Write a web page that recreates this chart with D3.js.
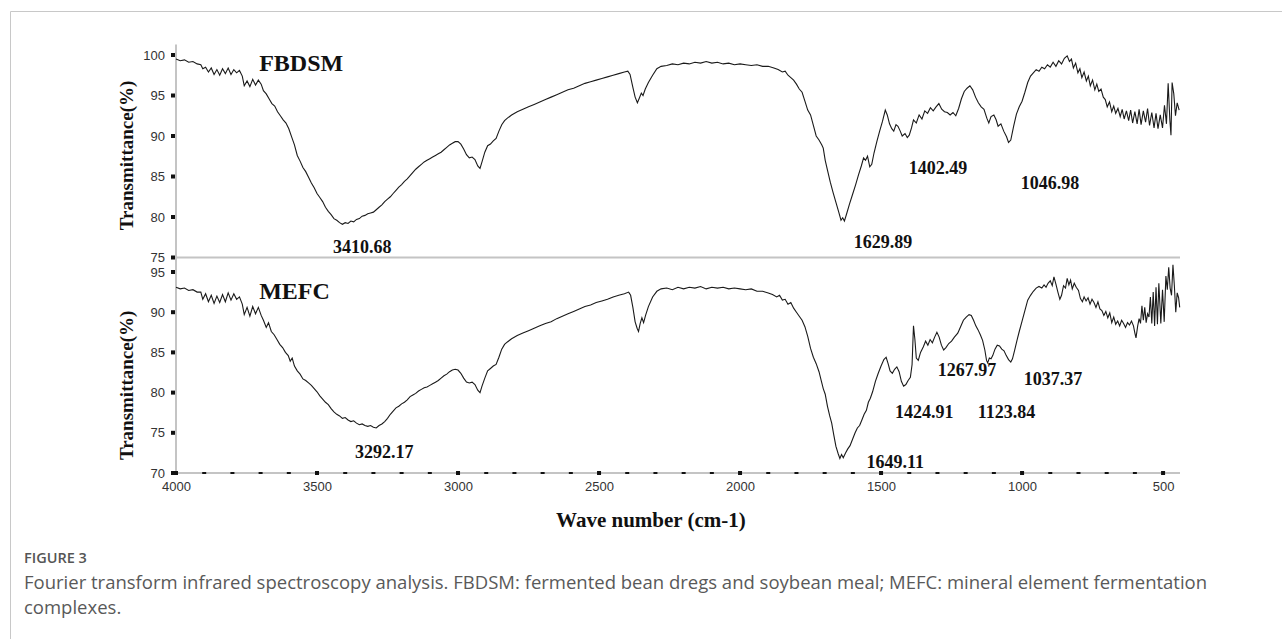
<!DOCTYPE html>
<html>
<head>
<meta charset="utf-8">
<script src="https://cdn.jsdelivr.net/npm/d3@7"></script>
<style>
  body { margin: 0; background: #fff; }
  svg { display: block; }
</style>
</head>
<body>
<div id="chart"></div>
<script>
// FTIR spectra: [wave number (cm-1), transmittance (%)]
var fbdsm = [
  [4000,99.5],[3985,99.3],[3970,99.4],[3955,99.1],[3940,99.2],[3925,98.9],[3912,98.8],[3905,98.3],
  [3895,98.5],[3885,97.9],[3875,98.4],[3865,97.6],[3855,98.2],[3845,97.5],[3835,98.3],[3825,97.7],
  [3815,98.4],[3805,97.6],[3795,98.2],[3785,97.8],[3775,98.1],[3765,97.4],[3758,96.2],[3748,96.8],
  [3738,96.1],[3728,97.0],[3718,96.3],[3708,96.9],[3698,96.4],[3690,95.6],[3680,95.2],[3670,94.6],
  [3660,94.0],[3650,93.7],[3640,93.0],[3630,92.5],[3620,92.0],[3610,91.6],[3600,90.9],[3590,89.9],
  [3580,88.9],[3570,87.6],[3560,86.9],[3550,86.1],[3540,85.6],[3530,84.9],[3520,84.2],[3510,83.6],
  [3500,82.9],[3490,82.4],[3480,81.9],[3470,81.2],[3460,80.7],[3450,80.3],[3440,79.8],[3430,79.6],
  [3420,79.3],[3410,79.1],[3400,79.3],[3390,79.2],[3380,79.5],[3370,79.4],[3360,79.7],[3350,79.8],
  [3340,80.1],[3330,80.2],[3320,80.4],[3310,80.5],[3300,80.6],[3290,80.9],[3280,81.2],[3270,81.5],
  [3260,81.9],[3250,82.2],[3240,82.5],[3230,82.9],[3220,83.3],[3210,83.7],[3200,84.0],[3190,84.4],
  [3180,84.7],[3170,85.1],[3160,85.5],[3150,85.9],[3140,86.2],[3130,86.5],[3120,86.8],[3110,87.0],
  [3100,87.2],[3090,87.4],[3080,87.6],[3070,87.8],[3060,88.0],[3050,88.3],[3040,88.6],[3030,88.9],
  [3020,89.1],[3010,89.3],[3000,89.3],[2990,89.0],[2980,88.4],[2970,87.7],[2960,87.3],[2950,87.4],
  [2940,87.1],[2930,86.3],[2922,86.0],[2915,86.8],[2905,88.0],[2895,88.8],[2885,89.0],[2875,89.4],
  [2865,89.7],[2855,90.6],[2845,91.4],[2835,91.9],[2825,92.2],[2810,92.6],[2790,93.0],[2770,93.3],
  [2750,93.6],[2730,93.9],[2710,94.2],[2690,94.5],[2670,94.8],[2650,95.1],[2630,95.4],[2610,95.7],
  [2590,95.9],[2570,96.2],[2550,96.5],[2530,96.7],[2510,96.9],[2490,97.1],[2470,97.3],[2450,97.5],
  [2430,97.7],[2410,97.9],[2398,98.0],[2390,97.6],[2380,96.0],[2372,94.8],[2364,94.1],[2358,94.6],
  [2350,95.3],[2344,95.0],[2336,95.8],[2325,96.6],[2310,97.5],[2295,98.3],[2280,98.6],[2260,98.7],
  [2240,98.9],[2220,98.8],[2200,99.0],[2180,98.9],[2160,99.1],[2140,99.0],[2120,99.2],[2100,99.0],
  [2080,99.1],[2060,98.9],[2040,99.0],[2020,98.8],[2000,98.9],[1980,98.8],[1960,98.7],[1940,98.8],
  [1920,98.6],[1900,98.6],[1880,98.4],[1865,98.2],[1850,97.9],[1840,98.0],[1830,97.5],[1820,97.2],
  [1810,96.9],[1800,96.4],[1790,95.8],[1780,95.4],[1770,94.3],[1760,93.2],[1750,92.6],[1740,91.3],
  [1730,90.0],[1720,89.5],[1710,88.9],[1705,88.5],[1698,87.0],[1690,85.8],[1680,84.3],[1670,83.0],
  [1660,81.8],[1650,80.6],[1642,79.6],[1636,79.9],[1630,79.5],[1622,80.4],[1612,81.6],[1600,82.9],
  [1590,84.0],[1580,85.2],[1570,86.3],[1562,87.3],[1555,87.0],[1548,87.5],[1540,86.2],[1533,86.5],
  [1525,87.9],[1515,89.3],[1505,90.6],[1495,91.8],[1485,93.2],[1478,92.6],[1470,91.5],[1462,90.9],
  [1455,90.6],[1447,91.4],[1440,91.2],[1432,90.6],[1425,90.0],[1415,90.3],[1407,89.8],[1400,90.1],
  [1392,91.0],[1385,92.0],[1375,91.6],[1365,92.6],[1355,92.1],[1345,93.1],[1335,92.8],[1325,93.5],
  [1315,93.1],[1305,93.6],[1295,94.0],[1285,93.3],[1275,93.0],[1265,92.9],[1255,92.6],[1245,92.9],
  [1235,92.5],[1225,93.4],[1215,94.6],[1205,95.5],[1195,95.9],[1185,96.2],[1175,95.7],[1165,94.8],
  [1155,94.1],[1145,93.6],[1135,93.3],[1125,92.2],[1118,91.6],[1110,92.4],[1100,92.6],[1092,92.0],
  [1085,91.2],[1075,91.5],[1065,90.6],[1055,89.9],[1048,89.2],[1040,89.5],[1030,91.2],[1020,92.7],
  [1010,93.6],[1000,94.3],[990,95.4],[980,96.6],[970,97.4],[960,97.8],[950,98.2],[940,98.0],
  [930,98.5],[920,98.3],[910,98.8],[900,98.5],[890,99.1],[880,98.6],[870,99.3],[860,98.9],
  [850,99.6],[840,99.9],[832,99.2],[825,99.5],[818,98.4],[810,99.0],[802,97.8],[795,98.3],
  [788,97.2],[780,97.9],[772,96.8],[765,97.4],[758,96.2],[750,96.9],[742,95.7],[735,96.4],
  [728,95.5],[720,95.8],[712,94.8],[705,94.5],[698,93.6],[690,94.2],[682,93.0],[675,93.7],
  [668,92.8],[660,93.4],[652,92.4],[645,93.3],[638,92.1],[630,93.1],[622,91.9],[615,93.2],
  [608,91.6],[600,93.0],[592,91.5],[585,93.3],[578,91.4],[570,93.1],[562,91.7],[555,93.4],
  [548,91.3],[540,92.9],[532,91.0],[525,92.8],[518,90.9],[510,92.6],[502,91.0],[495,93.8],
  [488,91.5],[482,96.5],[476,92.0],[472,90.1],[468,96.6],[462,95.2],[456,92.5],[450,94.1],[443,93.2]
];

var mefc = [
  [4000,93.1],[3985,92.9],[3970,93.0],[3955,92.7],[3940,92.8],[3925,92.5],[3912,92.5],[3905,91.6],
  [3895,92.3],[3885,91.3],[3875,92.1],[3865,91.1],[3855,92.0],[3845,91.2],[3835,92.2],[3825,91.3],
  [3815,92.4],[3805,91.5],[3795,92.3],[3785,91.6],[3775,91.9],[3765,91.0],[3758,89.7],[3748,90.6],
  [3738,89.5],[3728,90.7],[3718,89.8],[3708,90.6],[3698,89.6],[3690,89.0],[3680,88.1],[3672,88.7],
  [3662,87.6],[3652,87.2],[3642,86.6],[3632,86.0],[3622,85.6],[3612,85.0],[3602,84.6],[3595,83.9],
  [3588,84.3],[3580,83.3],[3570,82.7],[3560,82.3],[3550,81.7],[3540,81.5],[3530,81.2],[3520,80.9],
  [3510,80.5],[3500,80.1],[3490,79.6],[3480,79.2],[3470,78.8],[3460,78.5],[3450,78.0],[3440,77.6],
  [3430,77.3],[3420,77.1],[3410,76.8],[3400,76.9],[3390,76.6],[3380,76.4],[3370,76.5],[3360,76.2],
  [3350,76.0],[3340,76.1],[3330,75.9],[3320,75.8],[3310,75.9],[3300,75.7],[3290,75.6],[3280,75.9],
  [3270,76.1],[3260,76.4],[3250,76.8],[3240,77.3],[3230,77.7],[3220,78.1],[3210,78.3],[3200,78.6],
  [3190,78.8],[3180,79.1],[3170,79.5],[3160,79.7],[3150,79.9],[3140,80.2],[3130,80.4],[3120,80.6],
  [3110,80.7],[3100,80.9],[3090,81.1],[3080,81.3],[3070,81.5],[3060,81.8],[3050,82.1],[3040,82.3],
  [3030,82.6],[3020,82.8],[3010,82.9],[3000,82.8],[2990,82.4],[2980,81.8],[2970,81.3],[2960,81.2],
  [2950,81.3],[2940,81.0],[2930,80.3],[2922,80.0],[2915,80.8],[2905,81.8],[2895,82.7],[2885,83.0],
  [2875,83.3],[2865,83.5],[2855,84.4],[2845,85.4],[2835,86.0],[2825,86.3],[2810,86.7],[2790,87.1],
  [2770,87.4],[2750,87.7],[2730,88.0],[2710,88.3],[2690,88.6],[2670,88.8],[2650,89.2],[2630,89.5],
  [2610,89.8],[2590,90.1],[2570,90.4],[2550,90.7],[2530,90.9],[2510,91.2],[2490,91.4],[2470,91.6],
  [2450,91.9],[2430,92.1],[2410,92.3],[2395,92.5],[2388,92.1],[2380,90.6],[2372,88.8],[2365,88.0],
  [2360,87.6],[2354,88.6],[2348,89.3],[2342,88.7],[2335,89.6],[2325,90.7],[2310,91.9],[2295,92.6],
  [2280,92.9],[2260,93.0],[2240,92.8],[2220,93.1],[2200,92.9],[2180,93.1],[2160,93.0],[2140,93.2],
  [2120,92.9],[2100,93.1],[2080,93.0],[2060,93.1],[2040,92.9],[2020,93.0],[2000,92.9],[1980,92.8],
  [1960,92.9],[1940,92.6],[1920,92.6],[1900,92.4],[1885,92.2],[1870,91.9],[1860,92.1],[1850,91.5],
  [1840,91.6],[1830,91.0],[1820,91.2],[1810,90.5],[1800,90.0],[1790,89.5],[1780,89.0],[1770,88.2],
  [1760,87.0],[1750,85.5],[1740,84.4],[1730,83.6],[1720,82.6],[1713,81.6],[1705,80.5],[1698,79.8],
  [1690,78.3],[1682,77.1],[1675,76.2],[1668,74.8],[1660,73.3],[1652,72.4],[1646,71.8],[1640,72.3],
  [1634,71.9],[1626,72.5],[1618,73.0],[1610,73.4],[1600,74.3],[1592,75.0],[1584,75.6],[1576,75.9],
  [1568,76.6],[1560,77.3],[1552,77.8],[1545,78.8],[1538,79.3],[1530,80.1],[1520,81.4],[1510,82.4],
  [1500,83.3],[1490,84.1],[1482,84.4],[1475,83.6],[1468,82.7],[1460,82.4],[1452,82.9],[1444,83.2],
  [1436,82.6],[1428,81.4],[1420,80.8],[1412,81.0],[1404,81.5],[1396,81.9],[1390,83.5],[1385,88.3],
  [1380,86.6],[1375,84.3],[1368,84.0],[1360,85.0],[1350,85.7],[1342,86.4],[1334,85.9],[1326,86.6],
  [1318,86.2],[1310,86.9],[1302,87.5],[1294,86.9],[1286,85.9],[1278,85.3],[1270,85.6],[1260,86.1],
  [1250,86.4],[1240,86.9],[1228,87.4],[1218,88.2],[1208,89.0],[1198,89.4],[1188,89.7],[1180,89.6],
  [1172,89.0],[1164,88.3],[1156,87.8],[1148,87.2],[1140,86.5],[1132,85.3],[1126,84.0],[1122,83.7],
  [1116,84.3],[1110,84.2],[1104,84.6],[1096,85.4],[1088,85.9],[1080,85.8],[1072,85.4],[1064,85.2],
  [1056,84.6],[1048,84.1],[1040,83.8],[1034,84.2],[1026,85.3],[1018,86.5],[1010,87.6],[1000,88.9],
  [990,90.2],[980,91.5],[970,92.1],[960,92.6],[950,93.0],[940,93.2],[930,93.0],[922,93.4],
  [915,93.1],[908,93.6],[900,93.9],[893,93.3],[887,94.4],[880,93.5],[873,92.5],[866,91.6],
  [860,92.1],[853,93.3],[846,93.0],[840,94.2],[834,93.4],[828,94.0],[822,92.9],[815,93.6],
  [808,93.1],[800,92.7],[793,91.7],[786,91.3],[780,91.9],[773,91.4],[766,91.8],[759,91.0],
  [752,91.6],[745,91.2],[738,90.6],[731,91.3],[724,90.4],[717,90.2],[710,89.6],[703,90.1],
  [696,89.3],[689,89.9],[682,88.7],[675,89.4],[668,88.5],[661,88.9],[654,88.3],[647,89.0],
  [640,88.6],[633,88.1],[626,88.7],[619,88.4],[612,88.9],[605,88.3],[600,87.4],[596,86.8],
  [590,88.3],[585,89.2],[580,88.6],[575,90.8],[570,89.0],[565,90.6],[560,88.7],[555,89.8],
  [550,89.4],[545,91.9],[540,88.6],[535,92.5],[530,88.3],[525,93.1],[520,88.5],[515,93.6],
  [508,88.6],[502,92.8],[496,88.8],[490,94.5],[485,92.8],[480,95.6],[475,93.0],[470,92.1],
  [465,95.9],[460,93.3],[455,90.0],[450,92.4],[445,91.8],[441,90.6]
];

// peak labels: [label, wave number at text centre, transmittance at baseline]
var fbdsmPeaks = [["3410.68", 3340, 75.5], ["1629.89", 1493, 76.2], ["1402.49", 1298, 85.3], ["1046.98", 901, 83.5]];
var mefcPeaks = [["3292.17", 3262, 71.9], ["1649.11", 1450, 70.6], ["1424.91", 1347, 76.8],
                 ["1267.97", 1195, 82.1], ["1123.84", 1055, 76.8], ["1037.37", 890, 80.9]];

var xMajor = [4000, 3500, 3000, 2500, 2000, 1500, 1000, 500];
var xMinor = d3.range(3900, 400, -100).filter(function(v) { return v % 500 !== 0; });
var topTicks = [75, 80, 85, 90, 95, 100];
var bottomTicks = [70, 75, 80, 85, 90, 95];

function init() {
    var w = 1282, h = 639;
    var svg = d3.select("#chart").append("svg").attr("width", w).attr("height", h);

    // outer frame of the figure box
    svg.append("path").attr("d", "M1282,11.5H10.5V639").attr("fill", "none")
        .attr("stroke", "#c8c8c8").attr("stroke-width", 1);

    var x = d3.scaleLinear().domain([4000, 440]).range([176, 1180]);
    var yTop = d3.scaleLinear().domain([75, 100]).range([257.5, 55]);
    var yBot = d3.scaleLinear().domain([70, 95]).range([473, 272]);

    var axisColor = "#c4c4c4";

    // axis lines
    svg.append("line").attr("x1", x(4000)).attr("x2", x(4000))
        .attr("y1", yTop(101.3)).attr("y2", yBot(70))
        .attr("stroke", axisColor).attr("stroke-width", 2);
    svg.append("line").attr("x1", x(4000)).attr("x2", x(440))
        .attr("y1", yTop(75)).attr("y2", yTop(75))
        .attr("stroke", axisColor).attr("stroke-width", 2);
    svg.append("line").attr("x1", x(4000)).attr("x2", x(440))
        .attr("y1", yBot(70)).attr("y2", yBot(70))
        .attr("stroke", axisColor).attr("stroke-width", 2);

    // y axes (labels through d3.axisLeft, square tick marks from the scales)
    [[yTop, topTicks], [yBot, bottomTicks]].forEach(function(p) {
        var g = svg.append("g").attr("transform", "translate(" + x(4000) + ",0)")
            .call(d3.axisLeft(p[0]).tickValues(p[1]).tickSize(0).tickPadding(11));
        g.select(".domain").remove();
        g.selectAll("text").attr("font-family", "Liberation Sans, Arial, sans-serif")
            .attr("font-size", 13).attr("fill", "#333");
        svg.append("g").selectAll("rect").data(p[1]).enter().append("rect")
            .attr("x", x(4000) - 5).attr("y", function(d) { return p[0](d) - 2; })
            .attr("width", 4).attr("height", 4).attr("fill", "#111");
    });

    // x axis
    var gx = svg.append("g").attr("transform", "translate(0," + yBot(70) + ")")
        .call(d3.axisBottom(x).tickValues(xMajor).tickFormat(d3.format("d")).tickSize(0).tickPadding(9));
    gx.select(".domain").remove();
    gx.selectAll("text").attr("font-family", "Liberation Sans, Arial, sans-serif")
        .attr("font-size", 13).attr("fill", "#333");
    svg.append("g").selectAll("rect").data(xMajor).enter().append("rect")
        .attr("x", function(d) { return x(d) - 2; }).attr("y", yBot(70) - 2)
        .attr("width", 4).attr("height", 4).attr("fill", "#111");
    svg.append("g").selectAll("rect").data(xMinor).enter().append("rect")
        .attr("x", function(d) { return x(d) - 2; }).attr("y", yBot(70) - 1)
        .attr("width", 4).attr("height", 2).attr("fill", "#111");

    // spectra
    var lineTop = d3.line().x(function(d) { return x(d[0]); }).y(function(d) { return yTop(d[1]); });
    var lineBot = d3.line().x(function(d) { return x(d[0]); }).y(function(d) { return yBot(d[1]); });
    svg.append("path").datum(fbdsm).attr("d", lineTop).attr("fill", "none")
        .attr("stroke", "#1a1a1a").attr("stroke-width", 1.1);
    svg.append("path").datum(mefc).attr("d", lineBot).attr("fill", "none")
        .attr("stroke", "#1a1a1a").attr("stroke-width", 1.1);

    var serif = "Liberation Serif, Times New Roman, serif";

    // panel names
    svg.append("text").attr("x", x(3705)).attr("y", yTop(98)).text("FBDSM")
        .attr("font-family", serif).attr("font-weight", "bold").attr("font-size", 24).attr("fill", "#111");
    svg.append("text").attr("x", x(3705)).attr("y", yBot(91.7)).text("MEFC")
        .attr("font-family", serif).attr("font-weight", "bold").attr("font-size", 24).attr("fill", "#111");

    // peak annotations
    function peaks(data, y) {
        svg.append("g").selectAll("text").data(data).enter().append("text")
            .attr("x", function(d) { return x(d[1]); })
            .attr("y", function(d) { return y(d[2]); })
            .attr("text-anchor", "middle")
            .attr("font-family", serif).attr("font-weight", "bold").attr("font-size", 18)
            .attr("fill", "#111")
            .text(function(d) { return d[0]; });
    }
    peaks(fbdsmPeaks, yTop);
    peaks(mefcPeaks, yBot);

    // axis titles
    [[yTop, 87.6], [yBot, 80.9]].forEach(function(p) {
        svg.append("text")
            .attr("transform", "translate(133," + p[0](p[1]) + ") rotate(-90)")
            .attr("text-anchor", "middle")
            .attr("font-family", serif).attr("font-weight", "bold").attr("font-size", 19)
            .attr("fill", "#111").text("Transmittance(%)");
    });
    svg.append("text").attr("x", x(2316)).attr("y", 527).attr("text-anchor", "middle")
        .attr("font-family", serif).attr("font-weight", "bold").attr("font-size", 21)
        .attr("fill", "#111").text("Wave number (cm-1)");

    // caption
    var sans = "Open Sans, Noto Sans, sans-serif";
    svg.append("text").attr("x", 24).attr("y", 563).text("FIGURE 3")
        .attr("font-family", sans).attr("font-weight", 600).attr("font-size", 14.5).attr("fill", "#555");
    svg.append("text").attr("x", 24).attr("y", 589)
        .text("Fourier transform infrared spectroscopy analysis. FBDSM: fermented bean dregs and soybean meal; MEFC: mineral element fermentation")
        .attr("font-family", sans).attr("font-size", 18.5).attr("fill", "#595959");
    svg.append("text").attr("x", 24).attr("y", 614).text("complexes.")
        .attr("font-family", sans).attr("font-size", 18.5).attr("fill", "#595959");
}

window.onload = init;
</script>
</body>
</html>
